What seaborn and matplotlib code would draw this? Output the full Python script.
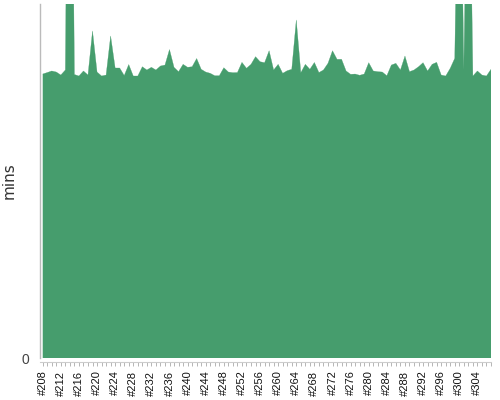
import numpy as np
import pandas as pd
import matplotlib
matplotlib.use("Agg")
import matplotlib.pyplot as plt
import seaborn as sns
from matplotlib.ticker import MultipleLocator, FuncFormatter

# build numbers and their durations (minutes)
builds = list(range(208, 308))
mins = [
    40.11, 40.32, 40.54, 40.39, 39.97, 40.68, 115.0, 40.04, 39.83, 40.54,
    39.97, 46.19, 40.39, 39.83, 39.97, 45.48, 40.96, 40.96, 39.90, 41.45,
    39.83, 39.83, 41.14, 40.68, 41.06, 40.68, 41.24, 41.38, 43.57, 41.06,
    40.44, 41.48, 41.06, 41.14, 42.30, 40.78, 40.39, 40.21, 39.87, 39.87,
    41.00, 40.39, 40.30, 40.32, 41.76, 40.92, 41.48, 42.56, 41.85, 41.71,
    43.40, 40.68, 41.48, 40.21, 40.58, 40.78, 47.74, 40.30, 41.48, 40.78,
    41.74, 40.32, 40.68, 41.62, 43.40, 42.19, 42.19, 40.54, 40.07, 40.11,
    39.93, 40.11, 41.71, 40.54, 40.44, 40.39, 39.87, 41.38, 41.62, 40.68,
    42.65, 40.44, 40.68, 41.14, 41.71, 40.54, 41.48, 41.76, 39.97, 39.83,
    40.92, 42.33, 85.0, 40.68, 85.0, 39.83, 40.54, 39.97, 39.83, 40.78,
]
y_max = 50

GREEN = "#469d6d"

df = pd.DataFrame({"build": builds, "mins": mins})

sns.set_style("white")
fig = plt.figure(figsize=(5, 4), dpi=100)
ax = fig.add_axes([0.08, 0.105, 0.902, 0.885])

sns.lineplot(data=df, x="build", y="mins", color=GREEN, linewidth=0.2, ax=ax)
ax.fill_between(df["build"], df["mins"], 0, color=GREEN, linewidth=0)

ax.set_xlim(builds[0] - 0.6, builds[-1])
ax.set_ylim(0, y_max)

# axes styling
for side in ["top", "right"]:
    ax.spines[side].set_visible(False)
ax.spines["left"].set_color("#bbbbbb")
ax.spines["left"].set_linewidth(1)
ax.spines["bottom"].set_color("#cccccc")
ax.spines["bottom"].set_linewidth(0.8)
ax.spines["bottom"].set_position(("outward", 3))

ax.set_yticks([0])
ax.tick_params(axis="y", length=4, color="#bbbbbb", labelsize=10, labelcolor="#444444")
for lbl in ax.get_yticklabels():
    lbl.set_fontfamily("Liberation Sans")

ax.xaxis.set_major_locator(MultipleLocator(4))
ax.xaxis.set_minor_locator(MultipleLocator(1))
ax.xaxis.set_major_formatter(FuncFormatter(lambda v, p: f"#{int(v)}"))
ax.tick_params(axis="x", which="both", length=3, color="#aaaaaa", width=0.6,
               bottom=True, direction="out")
ax.tick_params(axis="x", which="major", labelsize=8, labelcolor="#111111",
               labelrotation=90, pad=3)
for lbl in ax.get_xticklabels():
    lbl.set_fontfamily("Liberation Sans")

ax.set_xlabel("")
ax.set_ylabel("mins", fontsize=11, color="#333333")
ax.yaxis.set_label_coords(-0.051, 0.5)

fig.savefig("out.png", dpi=100)
